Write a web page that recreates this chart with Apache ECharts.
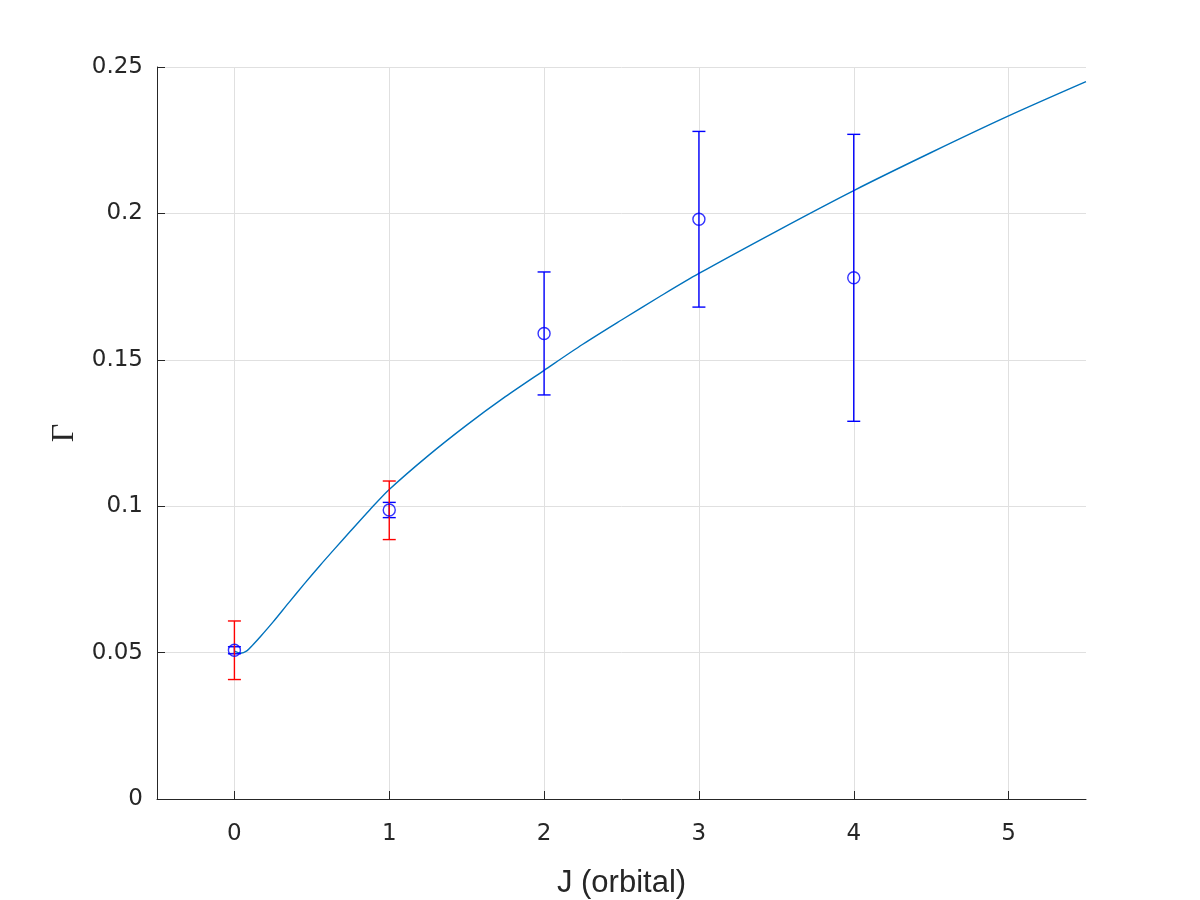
<!DOCTYPE html>
<html>
<head>
<meta charset="utf-8">
<script src="https://cdn.jsdelivr.net/npm/echarts@6/dist/echarts.min.js"></script>
<style>
  html, body { margin: 0; padding: 0; background: #fff; }
  #chart { width: 1200px; height: 900px; }
</style>
</head>
<body>
<div id="chart"></div>
<script>
// measured points (blue) and their error half-widths
const jValues = [0, 1, 2, 3, 4]
const gammaValues = [0.0508, 0.0987, 0.159, 0.198, 0.178]
const gammaErrors = [0.0012, 0.0026, 0.021, 0.030, 0.049]

// red error bars on the first two points
const redJ = [0, 1]
const redCenters = [0.0508, 0.0986]
const redErrors = [0.0100, 0.0100]

// fitted curve
const curveJ = [0, 0.04, 0.08, 0.12, 0.17, 0.25, 0.35, 0.45, 0.55, 0.65, 0.75, 0.875, 1.0, 1.25, 1.5, 1.75, 2.0, 2.25, 2.5, 2.75, 3.0, 3.5, 4.0, 4.5, 5.0, 5.5]
const curveGamma = [0.0505, 0.0498, 0.0506, 0.0527, 0.0556, 0.0605, 0.0670, 0.0734, 0.0796, 0.0856, 0.0915, 0.0988, 0.1057, 0.1172, 0.1277, 0.1374, 0.1464, 0.1553, 0.1636, 0.1717, 0.1795, 0.1939, 0.2078, 0.2208, 0.2333, 0.2450]

const xTicks = [0, 1, 2, 3, 4, 5]

const axisColor = '#262626'
const gridColor = '#e0e0e0'

function errorBarData (xs, centers, errs) {
  return xs.map((x, i) => [x, centers[i] - errs[i], centers[i] + errs[i]])
}

function renderErrorBar (color) {
  return function (params, api) {
    const lo = api.coord([api.value(0), api.value(1)])
    const hi = api.coord([api.value(0), api.value(2)])
    const half = 6.5
    const style = { stroke: color, lineWidth: 1.4 }
    return {
      type: 'group',
      children: [
        { type: 'line', shape: { x1: lo[0], y1: lo[1], x2: hi[0], y2: hi[1] }, style: style },
        { type: 'line', shape: { x1: lo[0] - half, y1: lo[1], x2: lo[0] + half, y2: lo[1] }, style: style },
        { type: 'line', shape: { x1: hi[0] - half, y1: hi[1], x2: hi[0] + half, y2: hi[1] }, style: style }
      ]
    }
  }
}

const chart = echarts.init(document.getElementById('chart'))
const option = {
  animation: false,
  backgroundColor: '#ffffff',
  grid: { left: 157, right: 114, top: 67, bottom: 101, outerBoundsMode: 'none' },
  xAxis: {
    type: 'value',
    min: -0.5,
    max: 5.5,
    name: 'J (orbital)',
    nameLocation: 'middle',
    nameGap: 69,
    nameTextStyle: { fontFamily: 'Liberation Sans', fontSize: 31, color: axisColor },
    axisLine: { onZero: false, lineStyle: { color: axisColor, width: 1 } },
    axisTick: { inside: true, length: 8, customValues: xTicks, lineStyle: { color: axisColor } },
    axisLabel: {
      customValues: xTicks,
      margin: 24,
      fontFamily: 'DejaVu Sans',
      fontSize: 23,
      color: axisColor
    },
    splitLine: { show: true, lineStyle: { color: gridColor, width: 1 } }
  },
  yAxis: {
    type: 'value',
    min: 0,
    max: 0.25,
    interval: 0.05,
    name: 'Γ',
    nameLocation: 'middle',
    nameGap: 71,
    nameRotate: 90,
    nameTextStyle: { fontFamily: 'Liberation Serif', fontSize: 32, color: axisColor },
    axisLine: { onZero: false, lineStyle: { color: axisColor, width: 1 } },
    axisTick: { inside: true, length: 8, lineStyle: { color: axisColor } },
    axisLabel: {
      margin: 14,
      fontFamily: 'DejaVu Sans',
      fontSize: 23,
      color: axisColor,
      formatter: v => String(+v.toFixed(2))
    },
    splitLine: { show: true, lineStyle: { color: gridColor, width: 1 } }
  },
  series: [
    {
      type: 'line',
      data: curveJ.map((x, i) => [x, curveGamma[i]]),
      smooth: 0.3,
      showSymbol: false,
      lineStyle: { color: '#0072BD', width: 1.4 },
      z: 2
    },
    {
      type: 'custom',
      data: errorBarData(jValues, gammaValues, gammaErrors),
      renderItem: renderErrorBar('#0000ff'),
      encode: { x: 0, y: [1, 2] },
      z: 3
    },
    {
      type: 'custom',
      data: errorBarData(redJ, redCenters, redErrors),
      renderItem: renderErrorBar('#ff0000'),
      encode: { x: 0, y: [1, 2] },
      z: 4
    },
    {
      type: 'scatter',
      data: jValues.map((x, i) => [x, gammaValues[i]]),
      symbol: 'circle',
      symbolSize: 12,
      itemStyle: { color: 'rgba(0,0,0,0)', borderColor: '#0000ff', borderWidth: 1.4 },
      z: 5
    }
  ]
}
chart.setOption(option)
</script>
</body>
</html>
